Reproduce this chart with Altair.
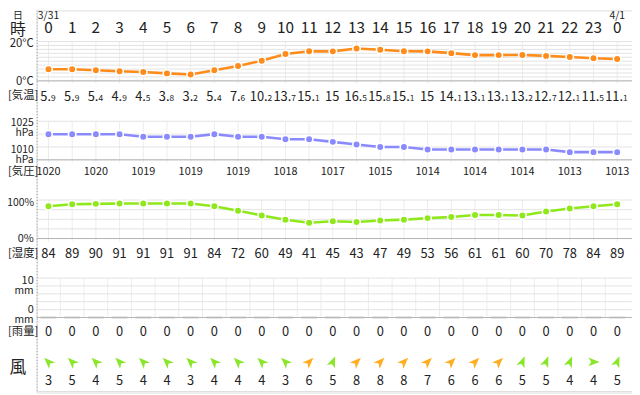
import altair as alt
import pandas as pd

# ---------------- data ----------------
hour_labels = ["0", "1", "2", "3", "4", "5", "6", "7", "8", "9", "10", "11", "12",
               "13", "14", "15", "16", "17", "18", "19", "20", "21", "22", "23", "0"]
date_labels = ["3/31", "4/1"]
date_hours = [0, 24]
temperature = [5.9, 5.9, 5.4, 4.9, 4.5, 3.8, 3.2, 5.4, 7.6, 10.2, 13.7, 15.1, 15,
               16.5, 15.8, 15.1, 15, 14.1, 13.1, 13.1, 13.2, 12.7, 12.1, 11.5, 11.1]
pressure = [1020, 1020, 1020, 1020, 1019, 1019, 1019, 1020, 1019, 1019, 1018, 1018, 1017,
            1016, 1015, 1015, 1014, 1014, 1014, 1014, 1014, 1014, 1013, 1013, 1013]
humidity = [84, 89, 90, 91, 91, 91, 91, 84, 72, 60, 49, 41, 45,
            43, 47, 49, 53, 56, 61, 61, 60, 70, 78, 84, 89]
rain = [0, 0, 0, 0, 0, 0, 0, 0, 0, 0, 0, 0, 0,
        0, 0, 0, 0, 0, 0, 0, 0, 0, 0, 0, 0]
wind_speed = [3, 5, 4, 5, 4, 4, 3, 4, 4, 4, 3, 6, 5,
              8, 8, 8, 7, 6, 6, 6, 5, 5, 4, 4, 5]
wind_dir = ["南東", "南東", "南東", "南東", "南東", "南東", "南東", "南東", "南東", "南東", "南東",
            "南西", "南南西", "南西", "南西", "南西", "南西", "南西", "南西", "南西",
            "南南西", "南南西", "南南西", "西", "南南西"]

temp_ticks = [0, 2, 4, 6, 8, 10, 12, 14, 16, 18, 20]
pres_ticks = [1010, 1015, 1020, 1025]
hum_ticks = [0, 25, 50, 75, 100]
rain_ticks = [0, 2, 4, 6, 8, 10]

compass = {"北": 0, "北北東": 22.5, "北東": 45, "東北東": 67.5, "東": 90, "東南東": 112.5,
           "南東": 135, "南南東": 157.5, "南": 180, "南南西": 202.5, "南西": 225,
           "西南西": 247.5, "西": 270, "西北西": 292.5, "北西": 315, "北北西": 337.5}

# ---------------- table ----------------
df = pd.DataFrame({
    "h": list(range(len(hour_labels))),
    "label": hour_labels,
    "t": temperature,
    "p": pressure,
    "hum": humidity,
    "rain": rain,
    "ws": wind_speed,
    "wd": wind_dir,
})
df["ang"] = [(compass[d] + 180) % 360 for d in wind_dir]

MAIN_DIGIT, DOT, SMALL_DIGIT = 6.6, 3.0, 4.4


def split_temp(v):
    s = f"{v:g}"
    if "." in s:
        a, b = s.split(".")
        off = (MAIN_DIGIT * len(a) + DOT - SMALL_DIGIT * len(b)) / 2
        return a + ".", b, off
    return s, "", MAIN_DIGIT * len(s) / 2


parts = [split_temp(v) for v in temperature]
df["t_main"] = [p[0] for p in parts]
df["t_dec"] = [p[1] for p in parts]
df["t_x"] = df["h"] + pd.Series([p[2] for p in parts]) / 24.0

dates = pd.DataFrame({"h": date_hours, "d": date_labels})

# ---------------- layout ----------------
W, H = 603, 387
F = "Noto Sans CJK JP"
TXT = "#222222"
ORANGE = "#ff8c1a"
PURPLE = "#8a8aff"
LIME = "#8ee81a"
WGREEN = "#8ae62a"
WORANGE = "#ffae22"
GRID = "#e3e3e3"
VGRID = "#ececec"
BASE = "#b4b4b4"

xs = alt.Scale(domain=[-0.5, 24.625], nice=False, zero=False)
X = alt.X("h:Q", scale=xs, axis=None)

temp_sc = alt.Scale(domain=[0, 20], range=[71.3, 31.5], nice=False, zero=False)
pres_sc = alt.Scale(domain=[1010, 1025], range=[151.3, 112.3], nice=False, zero=False)
hum_sc = alt.Scale(domain=[0, 100], range=[231, 192], nice=False, zero=False)
rain_sc = alt.Scale(domain=[0, 10], range=[311, 271], nice=False, zero=False)

one = pd.DataFrame({"k": [0]})


def label(text, x, y, size=12, align="right", baseline="middle", color=TXT):
    return alt.Chart(one).mark_text(text=text, font=F, fontSize=size, align=align,
                                    baseline=baseline, color=color).encode(
        x=alt.value(x), y=alt.value(y))


def hgrid(ticks, sc, base):
    g = pd.DataFrame({"v": ticks})
    lines = alt.Chart(g).mark_rule(color=GRID, strokeWidth=1).encode(
        y=alt.Y("v:Q", scale=sc, axis=None), x=alt.value(0), x2=alt.value(W))
    bottom = alt.Chart(g).transform_filter(alt.datum.v == base).mark_rule(
        color=BASE, strokeWidth=1).encode(
        y=alt.Y("v:Q", scale=sc, axis=None), x=alt.value(0), x2=alt.value(W))
    return [lines, bottom]


def vgrid(top, bottom):
    return alt.Chart(df).mark_rule(color=VGRID, strokeWidth=1).encode(
        x=X, y=alt.value(top), y2=alt.value(bottom))


base = alt.Chart(df)
layers = []

# grids
layers += [vgrid(31.5, 74), vgrid(112.3, 154), vgrid(192, 234)]
layers.append(
    base.transform_filter(alt.datum.h > 0).transform_calculate(hb="datum.h - 0.5")
    .mark_rule(color=VGRID, strokeWidth=1)
    .encode(x=alt.X("hb:Q", scale=xs, axis=None), y=alt.value(271), y2=alt.value(311)))
layers += hgrid(temp_ticks, temp_sc, 0)
layers += hgrid(pres_ticks, pres_sc, 1010)
layers += hgrid(hum_ticks, hum_sc, 0)
layers += hgrid(rain_ticks, rain_sc, 0)

# day boundary dotted line and bottom rule
layers.append(alt.Chart(one).mark_rule(color="#999999", strokeDash=[1, 2], strokeWidth=1)
              .encode(x=alt.value(0.5), y=alt.value(0), y2=alt.value(H)))
layers.append(alt.Chart(one).mark_rule(color="#dddddd", strokeWidth=1)
              .encode(x=alt.value(0), x2=alt.value(W), y=alt.value(386)))

# header
layers.append(alt.Chart(dates).mark_text(font=F, fontSize=10.5, color=TXT, baseline="alphabetic")
              .encode(x=X, y=alt.value(8.5), text="d:N"))
layers.append(base.mark_text(font=F, fontSize=15.5, color=TXT, baseline="middle")
              .encode(x=X, y=alt.value(17.5), text="label:N"))

# temperature
layers.append(base.mark_line(color=ORANGE, strokeWidth=2.6)
              .encode(x=X, y=alt.Y("t:Q", scale=temp_sc, axis=None)))
layers.append(base.mark_circle(fill=ORANGE, stroke="white", strokeWidth=1.6, size=58, opacity=1)
              .encode(x=X, y=alt.Y("t:Q", scale=temp_sc, axis=None)))
layers.append(base.mark_text(font=F, fontSize=13, color=TXT, align="right", baseline="alphabetic")
              .encode(x=alt.X("t_x:Q", scale=xs, axis=None), y=alt.value(91.5), text="t_main:N"))
layers.append(base.mark_text(font=F, fontSize=8.5, color=TXT, align="left", baseline="alphabetic")
              .encode(x=alt.X("t_x:Q", scale=xs, axis=None), y=alt.value(91.5), text="t_dec:N"))

# pressure
layers.append(base.mark_line(color=PURPLE, strokeWidth=2.6)
              .encode(x=X, y=alt.Y("p:Q", scale=pres_sc, axis=None)))
layers.append(base.mark_circle(fill=PURPLE, stroke="white", strokeWidth=1.6, size=58, opacity=1)
              .encode(x=X, y=alt.Y("p:Q", scale=pres_sc, axis=None)))
layers.append(base.transform_filter("datum.h % 2 == 0")
              .mark_text(font=F, fontSize=11, color=TXT, baseline="middle")
              .encode(x=X, y=alt.value(163.5), text=alt.Text("p:Q", format="d")))

# humidity
layers.append(base.mark_line(color=LIME, strokeWidth=2.6)
              .encode(x=X, y=alt.Y("hum:Q", scale=hum_sc, axis=None)))
layers.append(base.mark_circle(fill=LIME, stroke="white", strokeWidth=1.6, size=58, opacity=1)
              .encode(x=X, y=alt.Y("hum:Q", scale=hum_sc, axis=None)))
layers.append(base.mark_text(font=F, fontSize=13, color=TXT, baseline="middle")
              .encode(x=X, y=alt.value(247), text=alt.Text("hum:Q", format="d")))

# rain
layers.append(base.mark_tick(color="#b8b8b8", thickness=2, size=16, orient="horizontal")
              .encode(x=X, y=alt.Y("rain:Q", scale=rain_sc, axis=None)))
layers.append(base.mark_text(font=F, fontSize=13, color=TXT, baseline="middle")
              .encode(x=X, y=alt.value(326), text=alt.Text("rain:Q", format="d")))

# wind
ARROW = "M0,-1 L0.72,0.85 L0,0.38 L-0.72,0.85 Z"
layers.append(base.mark_point(shape=ARROW, filled=True, size=150, opacity=1)
              .encode(x=X, y=alt.value(356),
                      angle=alt.Angle("ang:Q", scale=None),
                      color=alt.condition(alt.datum.ws >= 6, alt.value(WORANGE), alt.value(WGREEN))))
layers.append(base.mark_text(font=F, fontSize=13, color=TXT, baseline="middle")
              .encode(x=X, y=alt.value(375), text=alt.Text("ws:Q", format="d")))

# left labels
LX = -3
LL = -29
layers += [
    label("日", -19, 9, size=10, align="center", baseline="alphabetic"),
    label("時", -19, 19.5, size=16, align="center"),
    label("20°C", LX, 34.5, size=11.5),
    label("0°C", LX, 72, size=11.5),
    label("[気温]", LL, 87, size=11.5, align="left"),
    label("1025", LX, 114, size=10.5),
    label("hPa", LX, 124.5, size=10.5),
    label("1010", LX, 141.5, size=10.5),
    label("hPa", LX, 152, size=10.5),
    label("[気圧]", LL, 163.5, size=11.5, align="left"),
    label("100%", -2.5, 195, size=10.5),
    label("0%", LX, 232, size=11),
    label("[湿度]", LL, 247, size=11.5, align="left"),
    label("10", LX, 274, size=11),
    label("mm", LX, 284.5, size=10.5),
    label("0", LX, 303, size=11),
    label("mm", LX, 313.5, size=10.5),
    label("[雨量]", LL, 326, size=11.5, align="left"),
    label("風", -19, 362, size=17, align="center"),
]

chart = alt.layer(*layers).resolve_scale(y="independent").properties(
    width=W, height=H,
    padding={"left": 29, "top": 0, "right": 0, "bottom": 0},
    autosize=alt.AutoSizeParams(type="none"),
).configure_view(stroke=None).configure(background="white")

chart.save("out.html", embed_options={"renderer": "svg", "actions": False})
